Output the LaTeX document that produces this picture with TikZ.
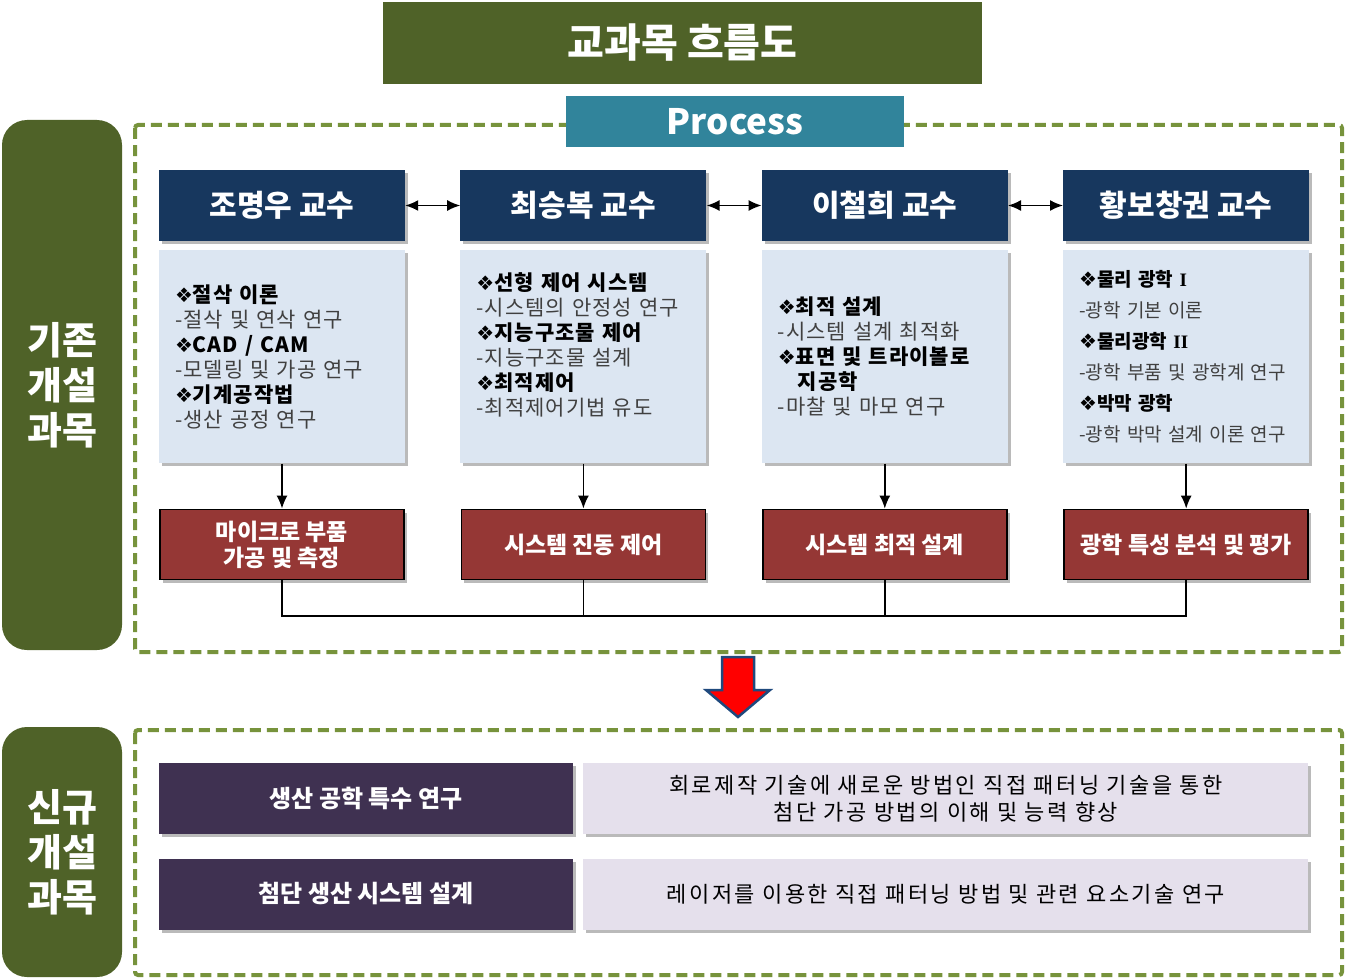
\documentclass[tikz,border=0pt]{standalone}
\usepackage{fontspec}
\setmainfont{Noto Sans CJK KR}
\newfontfamily\symfont{DejaVu Sans}
\newfontfamily\numfont{Liberation Serif}
\newfontfamily\spaced{Noto Sans CJK KR}[LetterSpace=5]
\newfontfamily\wide{Noto Sans CJK KR}[LetterSpace=11]
\usetikzlibrary{positioning,shadows,arrows,arrows.meta}
\tikzset{>=latex}

\definecolor{olive}{HTML}{4F6228}
\definecolor{framegreen}{HTML}{77933C}
\definecolor{teal}{HTML}{31849B}
\definecolor{navy}{HTML}{17375E}
\definecolor{paleblue}{HTML}{DCE6F2}
\definecolor{brick}{HTML}{953735}
\definecolor{plum}{HTML}{3F3151}
\definecolor{lavender}{HTML}{E5E0EC}
\definecolor{arrowblue}{HTML}{1F497D}

% subject heading and its short note inside the topic boxes
\newcommand{\subj}[1]{{\symfont\fontsize{20}{20}\selectfont ❖}\textbf{#1}}
\newcommand{\desc}[1]{{\color{black!75}-#1}}
\newcommand{\romn}[1]{{\numfont\bfseries #1}}

\begin{document}
\begin{tikzpicture}[x=1pt,y=-1pt, >={Latex[length=13pt,width=11pt]},
    shade/.style={drop shadow={shadow xshift=3pt,shadow yshift=-3pt,opacity=.45,fill=black!60}},
    banner/.style={fill=olive, text=white, inner sep=0pt, font=\fontsize{40}{42}\selectfont\bfseries},
    side/.style={fill=olive, rounded corners=25pt, text=white, align=center, inner sep=0pt,
        minimum width=120pt, font=\fontsize{38}{45}\selectfont\bfseries},
    frame/.style={draw=framegreen, line width=4pt, dash pattern=on 11pt off 6pt, rounded corners=3pt},
    prof/.style={fill=navy, text=white, inner sep=0pt, minimum width=246pt, minimum height=71pt,
        font=\fontsize{30}{34}\selectfont\bfseries, shade},
    topic/.style={fill=paleblue, inner xsep=16pt, inner ysep=0pt, text width=214pt, minimum height=213pt,
        align=left, font=\spaced\fontsize{21}{25}\selectfont, shade},
    result/.style={fill=brick, draw=black, line width=1.8pt, text=white, inner sep=0pt, align=center,
        minimum width=244pt, minimum height=70pt, font=\fontsize{23}{26}\selectfont\bfseries, shade},
    course/.style={fill=plum, text=white, inner sep=0pt, minimum width=414pt, minimum height=71pt,
        font=\fontsize{24}{26}\selectfont\bfseries, shade},
    goal/.style={fill=lavender, inner sep=0pt, minimum width=725pt, minimum height=71pt, align=center,
        font=\wide\fontsize{22}{27}\selectfont, shade},
    link/.style={black, line width=1.6pt}
    ]
\useasboundingbox (0,0) rectangle (1346,979);

% heading
\node[banner, minimum width=599pt, minimum height=82pt] (title) at (682.5,43) {교과목 흐름도};

% existing courses
\draw[frame] (135,125) rectangle (1342,652);
\node[side, minimum height=530pt] (oldside) at (62,385) {기존\\개설\\과목};
\node[banner, fill=teal, minimum width=338pt, minimum height=51pt,
    font=\fontsize{35}{38}\selectfont\bfseries] (process) at (735,121.5) {Process};

\node[prof] (p1) at (282,205.5) {조명우 교수};
\node[prof, right=55pt of p1] (p2) {최승복 교수};
\node[prof, right=55pt of p2] (p3) {이철희 교수};
\node[prof, right=55pt of p3] (p4) {황보창권 교수};

\draw[link, <->] (p1) -- (p2);
\draw[link, <->] (p2) -- (p3);
\draw[link, <->] (p3) -- (p4);

\node[topic, below=9pt of p1] (t1) {\subj{절삭 이론}\\
    \desc{절삭 및 연삭 연구}\\
    \subj{CAD / CAM}\\
    \desc{모델링 및 가공 연구}\\
    \subj{기계공작법}\\
    \desc{생산 공정 연구}};
\node[topic, below=9pt of p2] (t2) {\subj{선형 제어 시스템}\\
    \desc{시스템의 안정성 연구}\\
    \subj{지능구조물 제어}\\
    \desc{지능구조물 설계}\\
    \subj{최적제어}\\
    \desc{최적제어기법 유도}\\ ~};
\node[topic, below=9pt of p3] (t3) {\subj{최적 설계}\\
    \desc{시스템 설계 최적화}\\
    \subj{표면 및 트라이볼로}\\
    \hspace*{20pt}\textbf{지공학}\\
    \desc{마찰 및 마모 연구}};
\node[topic, below=9pt of p4, font=\fontsize{19}{31}\selectfont] (t4) {\subj{물리 광학 \romn{I}}\\
    \desc{광학 기본 이론}\\
    \subj{물리광학 \romn{II}}\\
    \desc{광학 부품 및 광학계 연구}\\
    \subj{박막 광학}\\
    \desc{광학 박막 설계 이론 연구}};

\node[result, below=45pt of t1] (r1) {마이크로 부품\\가공 및 측정};
\node[result, below=45pt of t2] (r2) {시스템 진동 제어};
\node[result, below=45pt of t3] (r3) {시스템 최적 설계};
\node[result, below=45pt of t4] (r4) {광학 특성 분석 및 평가};

\draw[link, ->] (t1) -- (r1);
\draw[link, ->] (t2) -- (r2);
\draw[link, ->] (t3) -- (r3);
\draw[link, ->] (t4) -- (r4);

% joining line under the results
\coordinate (bus) at (0,616);
\draw[link] (r1.south) -- (r1.south |- bus) -- (r4.south |- bus) -- (r4.south);
\draw[link] (r2.south) -- (r2.south |- bus);
\draw[link] (r3.south) -- (r3.south |- bus);

% block arrow down
\draw[fill=red, draw=arrowblue, line width=2.5pt, line join=miter]
    (722,657) -- (754,657) -- (754,690) -- (770,690) -- (738,717) -- (706,690) -- (722,690) -- cycle;

% new courses
\draw[frame] (135,730) rectangle (1342,975);
\node[side, minimum height=250pt] (newside) at (62,852) {신규\\개설\\과목};

\node[course] (n1) at (366,798.5) {생산 공학 특수 연구};
\node[goal, right=10pt of n1] (g1) {회로제작 기술에 새로운 방법인 직접 패터닝 기술을 통한\\첨단 가공 방법의 이해 및 능력 향상};
\node[course] (n2) at (366,894) {첨단 생산 시스템 설계};
\node[goal, right=10pt of n2] (g2) {레이저를 이용한 직접 패터닝 방법 및 관련 요소기술 연구};

\end{tikzpicture}
\end{document}
